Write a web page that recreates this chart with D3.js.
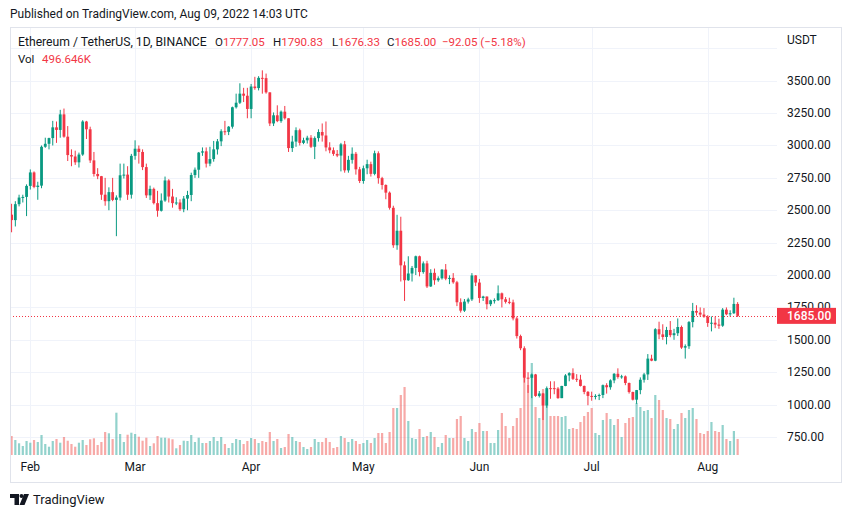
<!DOCTYPE html>
<html><head><meta charset="utf-8">
<script src="https://cdn.jsdelivr.net/npm/d3@7"></script>
<style>body{margin:0;background:#fff;} svg{display:block;font-family:Roboto,"Liberation Sans",sans-serif;}</style>
</head><body><svg id="c" width="851" height="518"></svg>
<script>
// ---- data (ETH/USDT daily, Binance) ----
const startDate = "2022-01-27";
const openJan = [2466,2424,2547,2598,2603];
const highJan = [2550,2570,2620,2620,2700];
const lowJan  = [2330,2375,2530,2560,2455];
const closeJan= [2424,2547,2598,2603,2688];

const openFeb = [2688,2792,2680,2690,2990,3013,3057,3140,3120,3240,3068,2926,2915,2870,2930,3185,3125,2885,2780,2763,2620,2570,2640,2580,2598,2770,2775,2620];
const highFeb = [2815,2800,2720,3000,3060,3060,3190,3185,3275,3285,3150,2970,2960,2945,3195,3190,3145,2950,2825,2765,2750,2677,2750,2615,2860,2860,2840,2935];
const lowFeb  = [2660,2670,2581,2670,2982,2970,3000,3020,3060,3060,2880,2840,2850,2830,2920,3050,2865,2760,2740,2580,2535,2500,2570,2300,2575,2745,2580,2590];
const closeFeb= [2792,2680,2690,2990,3013,3057,3140,3120,3240,3068,2926,2915,2870,2930,3185,3125,2885,2780,2763,2620,2570,2640,2580,2598,2770,2775,2620,2920];

const openMar = [2920,2975,2950,2833,2615,2665,2555,2496,2575,2730,2606,2555,2560,2508,2590,2618,2772,2813,2945,2955,2860,2895,2970,3032,3110,3105,3145,3295,3330,3400,3384];
const highMar = [3040,3000,2970,2860,2690,2675,2650,2630,2760,2740,2665,2600,2585,2610,2650,2790,2830,2950,2985,2985,2990,3035,3050,3125,3190,3150,3300,3400,3480,3445,3445];
const lowMar  = [2890,2860,2810,2595,2580,2545,2450,2490,2565,2560,2520,2540,2495,2485,2500,2570,2750,2750,2920,2830,2840,2875,2930,2995,3080,3080,3130,3285,3320,3335,3210];
const closeMar= [2975,2950,2833,2615,2665,2555,2496,2575,2730,2606,2555,2560,2508,2590,2618,2772,2813,2945,2955,2860,2895,2970,3032,3110,3105,3145,3295,3330,3400,3384,3282];

const openApr = [3282,3455,3443,3522,3520,3410,3170,3233,3188,3261,3210,2980,3030,3118,3020,3040,3060,2990,3057,3104,3077,2985,2963,2935,2922,3009,2808,2889,2936,2816];
const highApr = [3475,3530,3535,3580,3555,3410,3255,3310,3270,3305,3210,3075,3140,3130,3060,3075,3080,3070,3125,3170,3185,3025,2985,2965,3020,3035,2920,2985,2950,2835];
const lowApr  = [3210,3430,3425,3400,3400,3150,3150,3180,3175,3200,2950,2950,2990,3000,3010,3015,2980,2895,3030,3030,2955,2940,2920,2910,2800,2790,2790,2860,2775,2710];
const closeApr= [3455,3443,3522,3520,3410,3170,3233,3188,3261,3210,2980,3030,3118,3020,3040,3060,2990,3057,3104,3077,2985,2963,2935,2922,3009,2808,2889,2936,2816,2726];

const openMay = [2726,2824,2856,2781,2940,2748,2695,2636,2519,2230,2342,2075,1960,2012,2055,2145,2023,2090,1912,2017,1960,1975,2042,1972,1978,1944,1790,1725,1795,1812,1997];
const highMay = [2845,2890,2875,2960,2955,2758,2700,2645,2535,2465,2450,2105,2145,2070,2150,2150,2105,2110,2045,2050,1990,2045,2085,1998,2015,1955,1820,1815,1825,2015,2000];
const lowMay  = [2705,2778,2760,2770,2705,2660,2585,2505,2210,2195,1950,1800,1955,1950,2000,1990,2010,1900,1908,1925,1948,1965,1960,1930,1933,1760,1710,1715,1780,1800,1915];
const closeMay= [2824,2856,2781,2940,2748,2695,2636,2519,2230,2342,2075,1960,2012,2055,2145,2023,2090,1912,2017,1960,1975,2042,1972,1978,1944,1790,1725,1795,1812,1997,1942];

const openJun = [1942,1823,1834,1775,1805,1806,1859,1813,1793,1789,1665,1529,1435,1208,1207,1233,1067,1086,993,1127,1127,1124,1050,1144,1225,1243,1199,1193,1144,1098];
const highJun = [1970,1840,1835,1810,1820,1920,1865,1830,1825,1810,1680,1540,1450,1250,1240,1237,1105,1090,1140,1180,1180,1135,1145,1235,1250,1280,1235,1230,1147,1105];
const lowJun  = [1785,1800,1735,1760,1780,1800,1750,1780,1775,1650,1510,1420,1170,1090,1050,1060,1055,881,975,1045,1080,1045,1050,1142,1180,1190,1175,1140,1080,995];
const closeJun= [1823,1834,1775,1805,1806,1859,1813,1793,1789,1665,1529,1435,1208,1207,1233,1067,1086,993,1127,1126,1124,1050,1144,1225,1243,1199,1193,1144,1098,1067];

const openJul = [1067,1060,1067,1074,1150,1134,1187,1238,1213,1218,1167,1097,1038,1112,1192,1233,1355,1339,1582,1542,1522,1576,1536,1551,1599,1440,1451,1637,1723,1710,1695];
const highJul = [1100,1080,1085,1155,1165,1195,1243,1280,1230,1225,1170,1100,1113,1210,1245,1390,1385,1590,1640,1620,1600,1645,1585,1665,1610,1465,1645,1785,1767,1750,1745];
const lowJul  = [1030,1040,1035,1050,1085,1115,1165,1200,1200,1150,1085,1032,1006,1080,1170,1190,1335,1335,1505,1500,1465,1520,1500,1530,1430,1355,1430,1596,1687,1680,1670];
const closeJul= [1060,1067,1074,1150,1134,1187,1238,1213,1218,1167,1097,1038,1112,1192,1233,1355,1339,1582,1542,1522,1576,1536,1551,1599,1440,1451,1637,1723,1710,1695,1678];

const openAug = [1678,1630,1632,1618,1609,1733,1697,1705,1777.05];
const highAug = [1690,1680,1680,1663,1745,1750,1728,1825,1790.83];
const lowAug  = [1600,1565,1590,1585,1600,1690,1680,1700,1676.33];
const closeAug= [1630,1632,1618,1609,1733,1697,1705,1777,1685.00];

// volume in thousands of ETH
const volJan = [589,465,363,279,434];
const volFeb = [381,465,403,620,341,257,434,496,381,558,443,341,257,381,465,310,487,518,310,403,713,673,496,1311,651,403,629,691];
const volMar = [651,567,443,536,279,363,589,536,536,518,487,208,310,443,434,620,403,536,372,372,434,558,434,558,341,217,372,496,465,341,434];
const volApr = [527,496,372,434,403,713,434,496,217,248,651,558,434,403,248,186,248,496,403,403,527,403,217,248,589,527,403,496,434,341];
const volMay = [372,465,372,527,682,682,372,713,1457,1457,1860,2108,1054,527,496,806,558,589,713,558,248,372,620,527,527,1116,1209,527,434,806,713];
const volJun = [992,744,744,372,372,775,1302,899,527,899,1147,1457,2418,2170,2852,1488,1147,2046,1705,1209,1209,1209,1178,1209,806,837,806,1023,1209,1333];
const volJul = [1457,682,620,1085,1302,1116,930,1116,558,992,1147,1178,1612,1488,1364,1395,1147,1860,1705,1395,1147,1116,806,961,1302,1147,1395,1457,1116,682,651];
const volAug = [744,1023,744,713,930,496,434,744,496.646];

const priceTicks = [750,1000,1250,1500,1750,2000,2250,2500,2750,3000,3250,3500];
const monthTicks = ["2022-02-01","2022-03-01","2022-04-01","2022-05-01","2022-06-01","2022-07-01","2022-08-01"];
const monthLabels = ["Feb","Mar","Apr","May","Jun","Jul","Aug"];
const lastPrice = 1685.00;

// ---- build ----
const opens = [].concat(openJan,openFeb,openMar,openApr,openMay,openJun,openJul,openAug);
const highs = [].concat(highJan,highFeb,highMar,highApr,highMay,highJun,highJul,highAug);
const lows  = [].concat(lowJan,lowFeb,lowMar,lowApr,lowMay,lowJun,lowJul,lowAug);
const closes= [].concat(closeJan,closeFeb,closeMar,closeApr,closeMay,closeJun,closeJul,closeAug);
const vols  = [].concat(volJan,volFeb,volMar,volApr,volMay,volJun,volJul,volAug);
const start = new Date(startDate + "T00:00:00Z");
const data = opens.map((o,i)=>({date:d3.utcDay.offset(start,i),o,h:highs[i],l:lows[i],c:closes[i],v:vols[i]}));

const UP="#089981", DOWN="#F23645", VUP="rgba(38,166,154,0.5)", VDOWN="rgba(239,83,80,0.5)";
const TXT="#131722", GRID="#f0f3fa", BORDER="#e0e3eb";
const plot = {l:10, r:777, t:27, b:456};

const svg = d3.select("#c");
const x = d3.scaleUtc().domain([new Date("2022-02-01T00:00:00Z"), new Date("2022-08-01T00:00:00Z")]).range([30.3, 707.7]);
const y = d3.scaleLinear().domain([750,3500]).range([437,80.7]);
const yv = d3.scaleLinear().domain([0,3100]).range([455,355]);

svg.append("clipPath").attr("id","pc").append("rect")
  .attr("x",plot.l).attr("y",plot.t).attr("width",plot.r-plot.l).attr("height",plot.b-plot.t);

// grid
const g = svg.append("g").attr("clip-path","url(#pc)");
g.selectAll(".hg").data(priceTicks.concat([3750])).join("line")
  .attr("x1",plot.l).attr("x2",plot.r)
  .attr("y1",d=>Math.round(y(d))+0.5).attr("y2",d=>Math.round(y(d))+0.5)
  .attr("stroke",GRID);
g.selectAll(".vg").data(monthTicks).join("line")
  .attr("x1",d=>Math.round(x(new Date(d+"T00:00:00Z")))+0.5).attr("x2",d=>Math.round(x(new Date(d+"T00:00:00Z")))+0.5)
  .attr("y1",plot.t).attr("y2",plot.b).attr("stroke",GRID);

// volume
const bw = 2.2;
g.selectAll(".vol").data(data).join("rect")
  .attr("x",d=>x(d.date)-bw/2).attr("width",bw)
  .attr("y",d=>yv(d.v)).attr("height",d=>yv(0)-yv(d.v))
  .attr("fill",d=>d.c>=d.o?VUP:VDOWN);

// candles
const cw = 2.8;
const cg = g.selectAll(".cd").data(data).join("g");
cg.append("line")
  .attr("x1",d=>x(d.date)).attr("x2",d=>x(d.date))
  .attr("y1",d=>y(d.h)).attr("y2",d=>y(d.l))
  .attr("stroke",d=>d.c>=d.o?UP:DOWN).attr("stroke-width",1);
cg.append("rect")
  .attr("x",d=>x(d.date)-cw/2).attr("width",cw)
  .attr("y",d=>y(Math.max(d.o,d.c)))
  .attr("height",d=>Math.max(1,Math.abs(y(d.o)-y(d.c))))
  .attr("fill",d=>d.c>=d.o?UP:DOWN);

// last price dotted line
g.append("line").attr("x1",plot.l).attr("x2",plot.r)
  .attr("y1",Math.round(y(lastPrice))+0.5).attr("y2",Math.round(y(lastPrice))+0.5)
  .attr("stroke",DOWN).attr("stroke-dasharray","1,2");

// frame
svg.append("rect").attr("x",10.5).attr("y",27.5).attr("width",831).attr("height",455)
  .attr("fill","none").attr("stroke",BORDER);

// price axis
svg.selectAll(".pl").data(priceTicks).join("text")
  .attr("x",787).attr("y",d=>y(d)+4).attr("font-size",12).attr("fill",TXT)
  .text(d=>d3.format(".2f")(d));
svg.append("text").attr("x",787).attr("y",44).attr("font-size",12).attr("fill",TXT).text("USDT");
svg.append("rect").attr("x",777).attr("y",y(lastPrice)-8).attr("width",59).attr("height",16).attr("fill",DOWN);
svg.append("text").attr("x",787).attr("y",y(lastPrice)+4.5).attr("font-size",12).attr("fill","#fff").attr("font-weight",500)
  .text(d3.format(".2f")(lastPrice));

// time axis
svg.selectAll(".ml").data(monthTicks).join("text")
  .attr("x",d=>x(new Date(d+"T00:00:00Z"))).attr("y",471).attr("text-anchor","middle")
  .attr("font-size",12).attr("fill",TXT).text((d,i)=>monthLabels[i]);

// header
svg.append("text").attr("x",10).attr("y",18).attr("font-size",12).attr("fill",TXT)
  .text("Published on TradingView.com, Aug 09, 2022 14:03 UTC");
const last = data[data.length-1];
const chg = last.c - last.o;
const leg = svg.append("g").attr("font-size",11.5);
leg.append("text").attr("x",18).attr("y",46).attr("fill",TXT).attr("font-size",12.2).text("Ethereum / TetherUS, 1D, BINANCE");
const fields = [["O",last.o,215],["H",last.h,273],["L",last.l,332],["C",last.c,387]];
fields.forEach(f=>{
  const t = leg.append("text").attr("x",f[2]).attr("y",46).attr("fill",TXT);
  t.append("tspan").text(f[0]);
  t.append("tspan").attr("fill",DOWN).text(d3.format(".2f")(f[1]));
});
leg.append("text").attr("x",442).attr("y",46).attr("fill",DOWN)
  .text("\u2212"+d3.format(".2f")(Math.abs(chg))+" (\u2212"+d3.format(".2f")(Math.abs(chg/last.o*100))+"%)");
const vt = leg.append("text").attr("x",18).attr("y",63).attr("fill",TXT);
vt.append("tspan").text("Vol");
vt.append("tspan").attr("x",42).attr("fill",DOWN).text(d3.format(".3f")(last.v)+"K");

// footer logo
const lg = svg.append("g").attr("fill",TXT);
lg.append("path").attr("d","M10,494 h9 v11 h-4.5 v-7 h-4.5 z");
lg.append("circle").attr("cx",21.5).attr("cy",496).attr("r",2);
lg.append("path").attr("d","M24,494 h5 l-4.5,11 h-5 z");
svg.append("text").attr("x",33).attr("y",504).attr("font-size",13).attr("fill",TXT).text("TradingView");
</script>
</body></html>
